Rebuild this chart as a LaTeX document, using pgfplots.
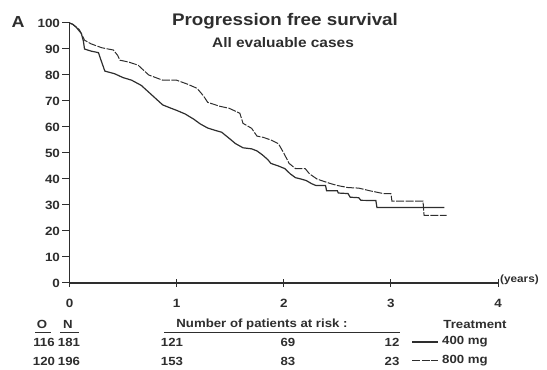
\documentclass[border=0pt]{standalone}
\usepackage{fontspec}
\setmainfont{Liberation Sans}[FakeStretch=1.12]
\usepackage{pgfplots}
\pgfplotsset{compat=1.18}
\definecolor{ink}{HTML}{2E2E2E}
\begin{document}
\begin{tikzpicture}[x=1pt,y=1pt]
\path (0,0) rectangle (547,370);
\begin{axis}[
  at={(69.5pt,87pt)}, anchor=south west,
  scale only axis, width=428.5pt, height=260pt,
  xmin=0, xmax=4, ymin=0, ymax=100,
  axis x line*=bottom, axis y line*=left,
  axis line style={ink, line width=1.2pt},
  xtick={0,1,2,3,4}, ytick={0,10,...,100},
  tick style={ink, line width=1pt},
  major tick length=7pt,
  ytick align=outside, xtick align=center,
  /pgf/number format/assume math mode=true,
  tick label style={font=\bfseries\fontsize{12}{13}\selectfont, text=ink},
  xticklabel style={yshift=-9pt},
  yticklabel style={xshift=1pt},
  clip=false,
]
\addplot[ink, line width=1.2pt] coordinates {
(0,100)(0.03,99.5)(0.06,98.5)(0.09,97)(0.11,96)(0.13,93)(0.14,90)(0.2,89.2)(0.27,88.6)(0.3,85)(0.33,81.5)(0.42,80.5)(0.5,79)(0.58,78)(0.67,76)(0.75,73)(0.87,68.5)(0.93,67.5)(1.0,66.4)(1.08,65)(1.16,63)(1.22,61.2)(1.29,59.6)(1.36,58.7)(1.42,58)(1.48,56)(1.55,53.6)(1.62,52)(1.7,51.6)(1.75,50.8)(1.8,49.3)(1.85,47.5)(1.88,46)(1.95,45)(2.01,44)(2.06,42)(2.11,40.5)(2.16,40)(2.21,39.4)(2.26,38.2)(2.3,37.5)(2.39,37.5)(2.4,35.5)(2.5,35.5)(2.51,34.6)(2.6,34.4)(2.62,33)(2.7,32.8)(2.72,31.8)(2.86,31.7)(2.87,29)(3.5,29)
};
\addplot[ink, line width=1pt, dash pattern=on 8pt off 1.5pt] coordinates {
(0,100)(0.03,99.5)(0.06,98.5)(0.09,97.5)(0.11,96)(0.14,93.4)(0.2,92)(0.3,90.5)(0.41,89.6)(0.45,87.5)(0.47,85.7)(0.55,85)(0.64,83.8)(0.7,81.5)(0.74,80)(0.87,78)(1.0,78)(1.1,76.5)(1.19,74.9)(1.25,72)(1.29,69.5)(1.4,68)(1.49,67.2)(1.59,65.3)(1.62,61.4)(1.7,59.5)(1.75,56.5)(1.81,56)(1.88,55)(1.95,53.6)(2.0,50)(2.05,46)(2.11,44)(2.2,44)(2.24,42)(2.31,40)(2.38,39)(2.44,38.2)(2.5,37.5)(2.6,36.7)(2.7,36.5)(2.8,35.5)(2.93,34.4)(3.0,34.4)(3.01,31.5)(3.3,31.5)(3.31,26)(3.52,26)
};
\end{axis}
\begin{scope}[every node/.style={text=ink, inner sep=0pt}]
\node[font=\bfseries\fontsize{16}{18}\selectfont] at (18,348) {A};
\node[font=\bfseries\fontsize{16.8}{18}\selectfont] at (285,349) {Progression free survival};
\node[font=\bfseries\fontsize{13.8}{15}\selectfont] at (283,327) {All evaluable cases};
\node[anchor=west, font=\bfseries\fontsize{10.5}{12}\selectfont] at (500,90) {(years)};
\begin{scope}[every node/.append style={font=\bfseries\fontsize{11.8}{13}\selectfont}]
\node at (42,46) {O};
\node at (68,46) {N};
\node at (262,46) {Number of patients at risk :};
\node at (475,46) {Treatment};
\draw[ink, line width=1pt] (35,37) -- (51,37);
\draw[ink, line width=1pt] (60,37) -- (79,37);
\draw[ink, line width=1pt] (164,37) -- (400,37);
\node at (44,28) {116};
\node at (69,28) {181};
\node at (172,28) {121};
\node at (288,28) {69};
\node at (392,28) {12};
\draw[ink, line width=1.1pt] (412,28) -- (438,28);
\node at (465,28) {400 mg};
\node at (44,9) {120};
\node at (69,9) {196};
\node at (172,9) {153};
\node at (288,9) {83};
\node at (392,9) {23};
\draw[ink, line width=1pt, dash pattern=on 8pt off 1.5pt] (412,9) -- (438,9);
\node at (465,9) {800 mg};
\end{scope}
\end{scope}
\end{tikzpicture}
\end{document}
